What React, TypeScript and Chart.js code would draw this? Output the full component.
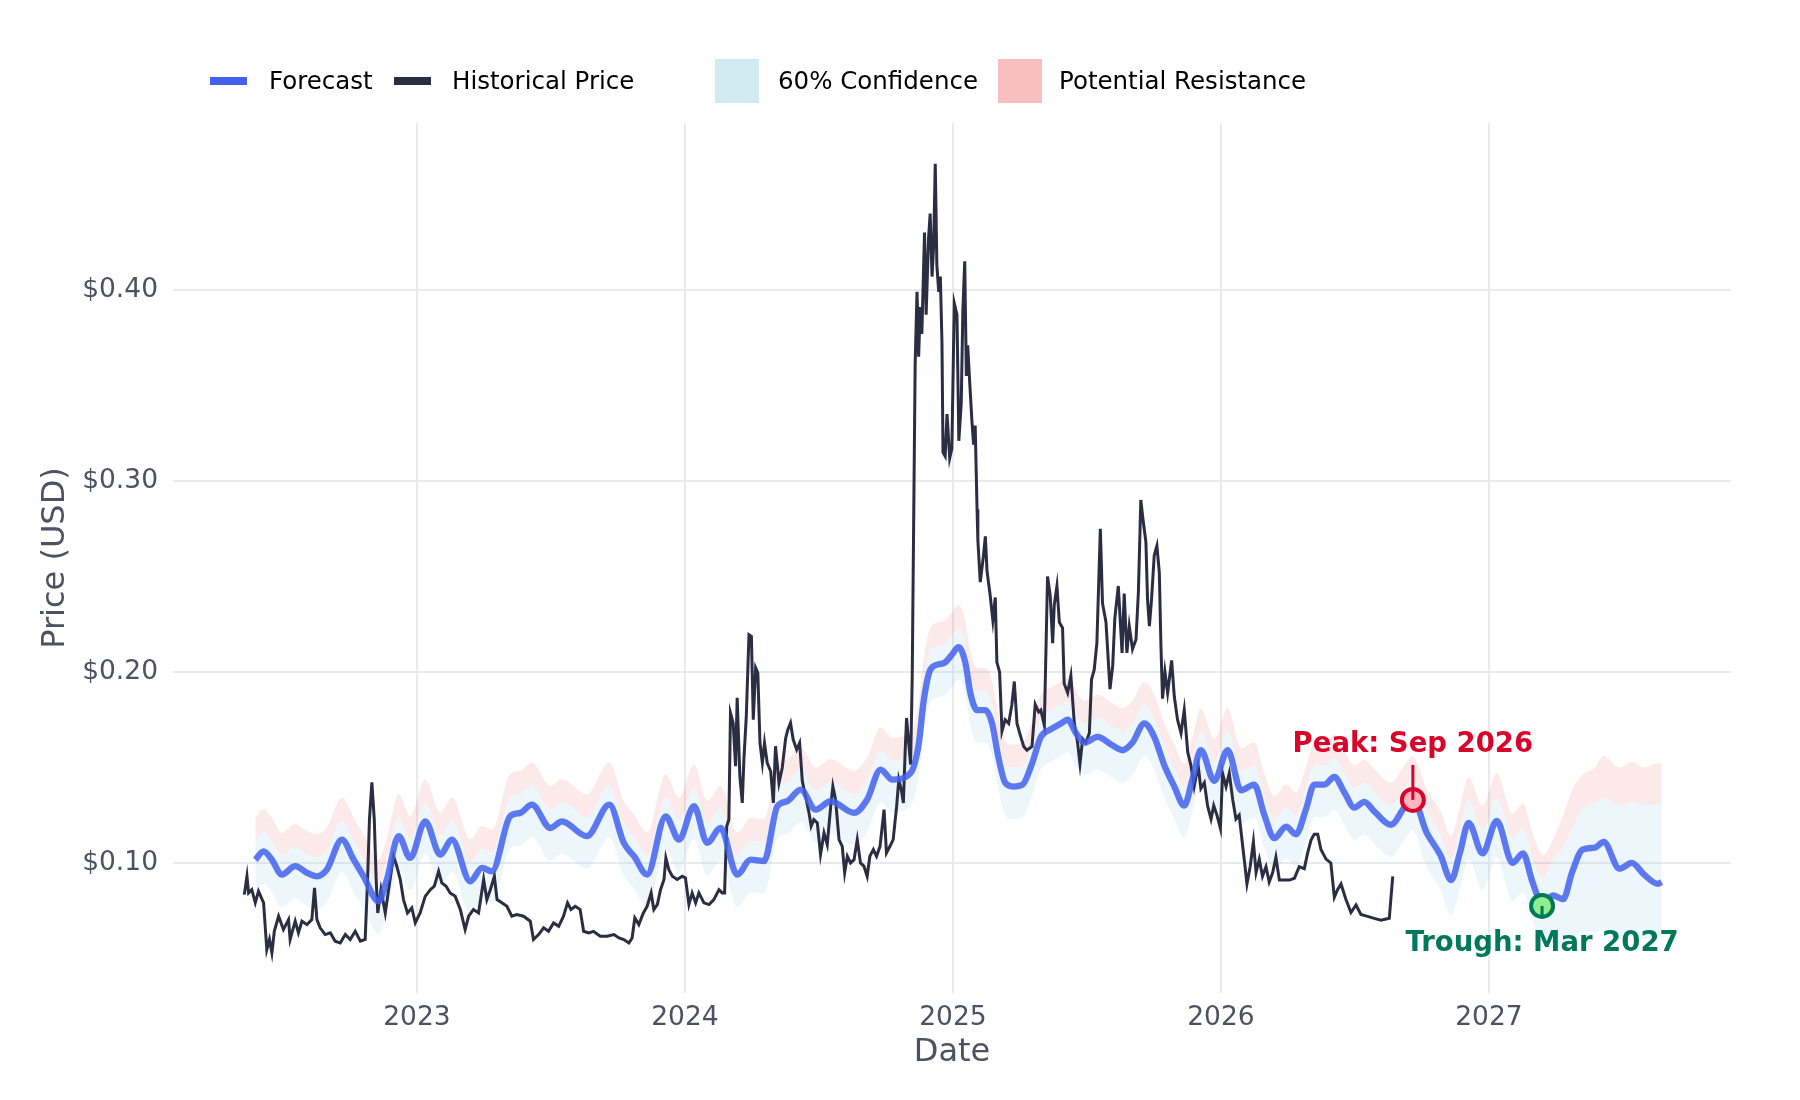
import { useEffect, useRef } from 'react';
import { Chart, registerables } from 'chart.js';

Chart.register(...registerables);

// axis ticks
const yearTicks = [2023, 2024, 2025, 2026, 2027];
const priceTicks = [0.1, 0.2, 0.3, 0.4];

// historical price, decimal year -> USD
const historyT = [
  2022.356, 2022.366, 2022.372, 2022.384, 2022.397, 2022.409, 2022.428, 2022.44, 2022.45, 2022.459,
  2022.468, 2022.484, 2022.502, 2022.521, 2022.527, 2022.546, 2022.558, 2022.571, 2022.59, 2022.608,
  2022.618, 2022.627, 2022.639, 2022.658, 2022.677, 2022.695, 2022.714, 2022.733, 2022.751, 2022.77,
  2022.789, 2022.807, 2022.816, 2022.823, 2022.832, 2022.841, 2022.848, 2022.854, 2022.866, 2022.882,
  2022.898, 2022.913, 2022.925, 2022.938, 2022.95, 2022.965, 2022.981, 2022.994, 2023.012, 2023.031,
  2023.05, 2023.065, 2023.081, 2023.093, 2023.109, 2023.124, 2023.143, 2023.162, 2023.18, 2023.193,
  2023.211, 2023.23, 2023.249, 2023.261, 2023.274, 2023.289, 2023.299, 2023.317, 2023.336, 2023.354,
  2023.373, 2023.398, 2023.423, 2023.435, 2023.454, 2023.473, 2023.491, 2023.51, 2023.529, 2023.547,
  2023.562, 2023.575, 2023.591, 2023.609, 2023.622, 2023.641, 2023.659, 2023.684, 2023.71, 2023.735,
  2023.754, 2023.772, 2023.791, 2023.803, 2023.813, 2023.828, 2023.845, 2023.859, 2023.874, 2023.884,
  2023.897, 2023.909, 2023.922, 2023.929, 2023.94, 2023.953, 2023.971, 2023.99, 2024.002, 2024.015,
  2024.027, 2024.04, 2024.052, 2024.071, 2024.09, 2024.108, 2024.127, 2024.139, 2024.148, 2024.156,
  2024.164, 2024.17, 2024.18, 2024.189, 2024.195, 2024.205, 2024.214, 2024.22, 2024.229, 2024.239,
  2024.248, 2024.255, 2024.264, 2024.272, 2024.28, 2024.289, 2024.297, 2024.307, 2024.32, 2024.33,
  2024.338, 2024.351, 2024.363, 2024.376, 2024.384, 2024.394, 2024.404, 2024.417, 2024.428, 2024.438,
  2024.45, 2024.463, 2024.471, 2024.481, 2024.494, 2024.506, 2024.519, 2024.531, 2024.544, 2024.552,
  2024.562, 2024.575, 2024.587, 2024.596, 2024.606, 2024.618, 2024.631, 2024.643, 2024.655, 2024.668,
  2024.68, 2024.69, 2024.703, 2024.715, 2024.728, 2024.743, 2024.752, 2024.765, 2024.777, 2024.79,
  2024.798, 2024.807, 2024.815, 2024.822, 2024.827, 2024.836, 2024.842, 2024.848, 2024.859, 2024.866,
  2024.872, 2024.878, 2024.884, 2024.894, 2024.9, 2024.909, 2024.915, 2024.922, 2024.928, 2024.934,
  2024.94, 2024.947, 2024.953, 2024.959, 2024.963, 2024.971, 2024.978, 2024.988, 2024.996, 2025.005,
  2025.015, 2025.022, 2025.031, 2025.037, 2025.044, 2025.05, 2025.055, 2025.062, 2025.071, 2025.077,
  2025.083, 2025.09, 2025.093, 2025.102, 2025.114, 2025.121, 2025.127, 2025.139, 2025.149, 2025.158,
  2025.164, 2025.174, 2025.183, 2025.195, 2025.208, 2025.22, 2025.229, 2025.239, 2025.251, 2025.264,
  2025.276, 2025.295, 2025.307, 2025.32, 2025.328, 2025.341, 2025.353, 2025.363, 2025.372, 2025.378,
  2025.388, 2025.397, 2025.409, 2025.415, 2025.428, 2025.44, 2025.453, 2025.465, 2025.474, 2025.484,
  2025.496, 2025.509, 2025.517, 2025.527, 2025.537, 2025.55, 2025.558, 2025.571, 2025.586, 2025.596,
  2025.604, 2025.617, 2025.631, 2025.639, 2025.649, 2025.658, 2025.67, 2025.683, 2025.692, 2025.701,
  2025.709, 2025.72, 2025.726, 2025.733, 2025.741, 2025.751, 2025.761, 2025.77, 2025.776, 2025.782,
  2025.791, 2025.801, 2025.816, 2025.826, 2025.838, 2025.851, 2025.863, 2025.876, 2025.888, 2025.9,
  2025.915, 2025.925, 2025.938, 2025.95, 2025.963, 2025.973, 2025.985, 2025.998, 2026.006, 2026.019,
  2026.031, 2026.044, 2026.056, 2026.068, 2026.081, 2026.09, 2026.097, 2026.109, 2026.121, 2026.131,
  2026.143, 2026.155, 2026.168, 2026.18, 2026.193, 2026.205, 2026.218, 2026.236, 2026.255, 2026.274,
  2026.292, 2026.311, 2026.323, 2026.336, 2026.348, 2026.361, 2026.373, 2026.392, 2026.41, 2026.423,
  2026.435, 2026.448, 2026.466, 2026.485, 2026.504, 2026.522, 2026.547, 2026.572, 2026.597, 2026.628,
  2026.641,
];
const historyV = [
  0.0834, 0.093, 0.0843, 0.086, 0.0791, 0.0852, 0.0791, 0.0546, 0.0599, 0.0529,
  0.0642, 0.0721, 0.0651, 0.0703, 0.0599, 0.0695, 0.0634, 0.0695, 0.0677, 0.0703,
  0.0869, 0.0703, 0.066, 0.0625, 0.0634, 0.059, 0.0581, 0.0625, 0.0599, 0.0642,
  0.059, 0.0599, 0.0913, 0.1227, 0.1422, 0.1227, 0.0913, 0.0738, 0.086, 0.0738,
  0.0895, 0.1035, 0.0983, 0.0913, 0.0808, 0.0738, 0.0764, 0.0686, 0.0738, 0.0825,
  0.086, 0.0878, 0.0956, 0.0895, 0.0878, 0.0843, 0.0825, 0.0756, 0.0651, 0.0721,
  0.0756, 0.0738, 0.0913, 0.0808, 0.086, 0.093, 0.0808, 0.0791, 0.0773, 0.0721,
  0.073, 0.0721, 0.0695, 0.0599, 0.0625, 0.066, 0.0642, 0.0686, 0.0668, 0.0721,
  0.0791, 0.0756, 0.0773, 0.0756, 0.0642, 0.0634, 0.0642, 0.0616, 0.0616, 0.0625,
  0.0607, 0.0599, 0.0581, 0.0607, 0.0712, 0.0677, 0.0738, 0.0773, 0.0843, 0.0756,
  0.0782, 0.086, 0.0913, 0.1026, 0.0965, 0.093, 0.0913, 0.093, 0.0921, 0.0782,
  0.0843, 0.0791, 0.0843, 0.0791, 0.0782, 0.0808, 0.086, 0.0843, 0.0843, 0.1192,
  0.1227, 0.1785, 0.1733, 0.1506, 0.1864, 0.1454, 0.1314, 0.1541, 0.1768, 0.2195,
  0.2187, 0.175, 0.2021, 0.1995, 0.1628, 0.1524, 0.1628, 0.1524, 0.148, 0.1314,
  0.1611, 0.1419, 0.1497, 0.1654, 0.1698, 0.1733, 0.1646, 0.1593, 0.1628, 0.1428,
  0.1349, 0.1262, 0.1192, 0.1227, 0.1209, 0.1044, 0.1157, 0.1096, 0.1297, 0.1401,
  0.1332, 0.1122, 0.1087, 0.0948, 0.1035, 0.1, 0.1017, 0.1122, 0.1, 0.0983,
  0.093, 0.1035, 0.107, 0.1035, 0.1087, 0.1279, 0.1052, 0.1087, 0.1122, 0.1297,
  0.1436, 0.1384, 0.1314, 0.1593, 0.1759, 0.1611, 0.1515, 0.196, 0.361, 0.399,
  0.365, 0.391, 0.377, 0.43, 0.387, 0.427, 0.44, 0.407, 0.423, 0.466,
  0.413, 0.399, 0.407, 0.373, 0.315, 0.313, 0.335, 0.312, 0.317, 0.393,
  0.387, 0.321, 0.341, 0.389, 0.415, 0.355, 0.371, 0.353, 0.331, 0.319,
  0.329, 0.285, 0.269, 0.247, 0.261, 0.271, 0.253, 0.24, 0.227, 0.239,
  0.205, 0.2, 0.169, 0.175, 0.173, 0.183, 0.195, 0.173, 0.167, 0.161,
  0.159, 0.161, 0.183, 0.179, 0.18, 0.172, 0.25, 0.24, 0.215, 0.235,
  0.245, 0.226, 0.223, 0.194, 0.189, 0.198, 0.173, 0.163, 0.152, 0.165,
  0.163, 0.168, 0.196, 0.201, 0.215, 0.275, 0.236, 0.226, 0.191, 0.203,
  0.228, 0.245, 0.21, 0.241, 0.21, 0.224, 0.212, 0.217, 0.242, 0.29,
  0.28, 0.268, 0.238, 0.224, 0.238, 0.261, 0.266, 0.252, 0.214, 0.186,
  0.2, 0.189, 0.206, 0.187, 0.175, 0.168, 0.18, 0.158, 0.151, 0.14,
  0.151, 0.139, 0.142, 0.13, 0.123, 0.13, 0.125, 0.118, 0.147, 0.14,
  0.147, 0.133, 0.123, 0.125, 0.109, 0.098, 0.089, 0.098, 0.111, 0.095,
  0.102, 0.093, 0.098, 0.09, 0.095, 0.103, 0.091, 0.091, 0.091, 0.092,
  0.098, 0.097, 0.105, 0.112, 0.115, 0.115, 0.107, 0.102, 0.1, 0.082,
  0.086, 0.089, 0.081, 0.074, 0.078, 0.073, 0.072, 0.071, 0.07, 0.071,
  0.093,
];

// forecast line and its bands
const forecastT = [
  2022.397, 2022.428, 2022.459, 2022.496, 2022.546, 2022.59, 2022.627, 2022.664, 2022.72, 2022.764,
  2022.801, 2022.857, 2022.888, 2022.932, 2022.975, 2023.031, 2023.087, 2023.131, 2023.199, 2023.243,
  2023.28, 2023.348, 2023.386, 2023.429, 2023.498, 2023.541, 2023.634, 2023.718, 2023.772, 2023.81,
  2023.859, 2023.928, 2023.978, 2024.034, 2024.083, 2024.133, 2024.195, 2024.245, 2024.295, 2024.345,
  2024.382, 2024.432, 2024.488, 2024.544, 2024.631, 2024.68, 2024.73, 2024.774, 2024.842, 2024.872,
  2024.891, 2024.915, 2024.947, 2024.971, 2024.996, 2025.021, 2025.046, 2025.065, 2025.09, 2025.121,
  2025.146, 2025.17, 2025.195, 2025.225, 2025.26, 2025.295, 2025.328, 2025.366, 2025.403, 2025.428,
  2025.459, 2025.49, 2025.54, 2025.59, 2025.633, 2025.67, 2025.714, 2025.751, 2025.789, 2025.826,
  2025.863, 2025.894, 2025.925, 2025.975, 2026.025, 2026.075, 2026.124, 2026.162, 2026.199, 2026.243,
  2026.28, 2026.317, 2026.348, 2026.386, 2026.423, 2026.46, 2026.498, 2026.535, 2026.572, 2026.634,
  2026.684, 2026.715, 2026.767, 2026.819, 2026.859, 2026.891, 2026.924, 2026.976, 2027.029, 2027.088,
  2027.127, 2027.16, 2027.186, 2027.202, 2027.238, 2027.277, 2027.31, 2027.349, 2027.395, 2027.428,
  2027.487, 2027.533, 2027.578, 2027.631, 2027.644,
];
const forecastV = [
  0.1017, 0.1061, 0.1017, 0.0939, 0.0983, 0.0948, 0.093, 0.0965, 0.1122, 0.1017,
  0.093, 0.0799, 0.0913, 0.114, 0.1026, 0.1218, 0.1044, 0.1122, 0.0904, 0.0974,
  0.0956, 0.1244, 0.1262, 0.1305, 0.1183, 0.1218, 0.114, 0.1305, 0.1105, 0.1035,
  0.0939, 0.1244, 0.1122, 0.1297, 0.1105, 0.1183, 0.0939, 0.1017, 0.1009, 0.1297,
  0.1323, 0.1384, 0.1279, 0.1323, 0.1262, 0.1332, 0.1489, 0.1436, 0.1471, 0.162,
  0.185, 0.201, 0.204, 0.205, 0.209, 0.213, 0.205, 0.189, 0.18, 0.18,
  0.173, 0.155, 0.142, 0.14, 0.141, 0.152, 0.166, 0.17, 0.173, 0.175,
  0.168, 0.163, 0.166, 0.162, 0.159, 0.163, 0.173, 0.166, 0.151, 0.14,
  0.13, 0.144, 0.159, 0.143, 0.159, 0.138, 0.141, 0.125, 0.113, 0.119,
  0.115, 0.128, 0.141, 0.141, 0.145, 0.137, 0.129, 0.132, 0.127, 0.12,
  0.129, 0.134, 0.116, 0.104, 0.091, 0.105, 0.121, 0.105, 0.122, 0.1,
  0.105, 0.091, 0.081, 0.078, 0.083, 0.081, 0.095, 0.107, 0.108, 0.111,
  0.097, 0.1, 0.094, 0.089, 0.09,
];
const confLow = [
  0.0847, 0.0891, 0.0847, 0.0769, 0.0813, 0.0778, 0.076, 0.0795, 0.0952, 0.0847,
  0.076, 0.0629, 0.0743, 0.097, 0.0856, 0.1048, 0.0874, 0.0952, 0.0734, 0.0804,
  0.0786, 0.1074, 0.1092, 0.1135, 0.1013, 0.1048, 0.097, 0.1135, 0.0935, 0.0865,
  0.0769, 0.1074, 0.0952, 0.1127, 0.0935, 0.1013, 0.0769, 0.0847, 0.0839, 0.1127,
  0.1153, 0.1214, 0.1109, 0.1153, 0.1092, 0.1162, 0.1319, 0.1266, 0.1301, 0.145,
  0.168, 0.184, 0.187, 0.188, 0.192, 0.196, 0.188, 0.172, 0.163, 0.163,
  0.156, 0.138, 0.125, 0.123, 0.124, 0.135, 0.149, 0.153, 0.156, 0.158,
  0.151, 0.146, 0.149, 0.145, 0.142, 0.146, 0.156, 0.149, 0.134, 0.123,
  0.113, 0.127, 0.142, 0.126, 0.142, 0.121, 0.124, 0.108, 0.096, 0.102,
  0.098, 0.111, 0.124, 0.124, 0.128, 0.12, 0.112, 0.115, 0.11, 0.103,
  0.112, 0.117, 0.098, 0.086, 0.073, 0.086, 0.102, 0.086, 0.103, 0.08,
  0.085, 0.071, 0.061, 0.058, 0.058, 0.056, 0.06, 0.064, 0.064, 0.065,
  0.06, 0.062, 0.06, 0.062, 0.062,
];
const confHigh = [
  0.1117, 0.1161, 0.1117, 0.1039, 0.1083, 0.1048, 0.103, 0.1065, 0.1222, 0.1117,
  0.103, 0.0899, 0.1013, 0.124, 0.1126, 0.1318, 0.1144, 0.1222, 0.1004, 0.1074,
  0.1056, 0.1344, 0.1362, 0.1405, 0.1283, 0.1318, 0.124, 0.1405, 0.1205, 0.1135,
  0.1039, 0.1344, 0.1222, 0.1397, 0.1205, 0.1283, 0.1039, 0.1117, 0.1109, 0.1397,
  0.1423, 0.1484, 0.1379, 0.1423, 0.1362, 0.1432, 0.1589, 0.1536, 0.1571, 0.172,
  0.195, 0.211, 0.214, 0.215, 0.219, 0.223, 0.215, 0.199, 0.19, 0.19,
  0.183, 0.165, 0.152, 0.15, 0.151, 0.162, 0.176, 0.18, 0.183, 0.185,
  0.178, 0.173, 0.176, 0.172, 0.169, 0.173, 0.183, 0.176, 0.161, 0.15,
  0.14, 0.154, 0.169, 0.153, 0.169, 0.148, 0.151, 0.135, 0.123, 0.129,
  0.125, 0.138, 0.151, 0.151, 0.155, 0.147, 0.139, 0.142, 0.137, 0.13,
  0.139, 0.144, 0.127, 0.115, 0.102, 0.117, 0.133, 0.117, 0.134, 0.113,
  0.118, 0.104, 0.094, 0.092, 0.102, 0.108, 0.118, 0.128, 0.131, 0.134,
  0.13, 0.132, 0.13, 0.131, 0.131,
];
const resistHigh = [
  0.1237, 0.1281, 0.1237, 0.1159, 0.1203, 0.1168, 0.115, 0.1185, 0.1342, 0.1237,
  0.115, 0.1019, 0.1133, 0.136, 0.1246, 0.1438, 0.1264, 0.1342, 0.1124, 0.1194,
  0.1176, 0.1464, 0.1482, 0.1525, 0.1403, 0.1438, 0.136, 0.1525, 0.1325, 0.1255,
  0.1159, 0.1464, 0.1342, 0.1517, 0.1325, 0.1403, 0.1159, 0.1237, 0.1229, 0.1517,
  0.1543, 0.1604, 0.1499, 0.1543, 0.1482, 0.1552, 0.1709, 0.1656, 0.1691, 0.184,
  0.207, 0.223, 0.226, 0.227, 0.231, 0.235, 0.227, 0.211, 0.202, 0.202,
  0.195, 0.177, 0.164, 0.162, 0.163, 0.174, 0.188, 0.192, 0.195, 0.197,
  0.19, 0.185, 0.188, 0.184, 0.181, 0.185, 0.195, 0.188, 0.173, 0.162,
  0.152, 0.166, 0.181, 0.165, 0.181, 0.16, 0.163, 0.147, 0.135, 0.141,
  0.137, 0.15, 0.163, 0.163, 0.167, 0.159, 0.151, 0.154, 0.149, 0.142,
  0.151, 0.156, 0.139, 0.127, 0.114, 0.129, 0.145, 0.13, 0.147, 0.126,
  0.131, 0.117, 0.107, 0.104, 0.112, 0.125, 0.138, 0.146, 0.15, 0.156,
  0.15, 0.153, 0.15, 0.152, 0.152,
];

const peak = { t: 2026.716, v: 0.133, label: 'Peak: Sep 2026' };
const trough = { t: 2027.198, v: 0.0775, label: 'Trough: Mar 2027' };

const FONT = '"DejaVu Sans", sans-serif';
const TICK_COLOR = '#4c5261';

const pts = (xs: number[], ys: number[]) => xs.map((x, i) => ({ x, y: ys[i] }));

// labels and arrows for the peak / trough markers
const extremaPlugin = {
  id: 'extremaLabels',
  afterDatasetsDraw(chart: any) {
    const { ctx, scales } = chart;
    const xs = scales.x;
    const ys = scales.y;
    ctx.save();
    ctx.font = `bold 27.5px ${FONT}`;
    ctx.textAlign = 'center';
    ctx.textBaseline = 'middle';
    ctx.lineWidth = 3;

    const px = xs.getPixelForValue(peak.t);
    const py = ys.getPixelForValue(peak.v);
    ctx.strokeStyle = '#d90429';
    ctx.fillStyle = '#d90429';
    ctx.beginPath();
    ctx.moveTo(px, py - 35);
    ctx.lineTo(px, py);
    ctx.stroke();
    ctx.fillText(peak.label, px, py - 55);

    const tx = xs.getPixelForValue(trough.t);
    const ty = ys.getPixelForValue(trough.v);
    ctx.strokeStyle = '#00785a';
    ctx.fillStyle = '#00785a';
    ctx.beginPath();
    ctx.moveTo(tx, ty);
    ctx.lineTo(tx, ty + 11);
    ctx.stroke();
    ctx.fillText(trough.label, tx, ty + 38);
    ctx.restore();
  },
};

const legendItems = [
  { label: 'Forecast', kind: 'line', color: '#4361ee', left: 210, textLeft: 269 },
  { label: 'Historical Price', kind: 'line', color: '#2b2d42', left: 394, textLeft: 452 },
  { label: '60% Confidence', kind: 'box', color: 'rgba(173, 216, 230, 0.55)', left: 715, textLeft: 778 },
  { label: 'Potential Resistance', kind: 'box', color: 'rgba(240, 128, 128, 0.5)', left: 998, textLeft: 1059 },
];

export default function App() {
  const canvasRef = useRef<HTMLCanvasElement>(null);

  useEffect(() => {
    document.body.style.margin = '0';
    if (!canvasRef.current) return;

    const chart = new Chart(canvasRef.current, {
      type: 'line',
      data: {
        datasets: [
          {
            label: 'Peak',
            data: [{ x: peak.t, y: peak.v }],
            showLine: false,
            pointRadius: 11,
            pointBackgroundColor: '#ffb6c1',
            pointBorderColor: '#d90429',
            pointBorderWidth: 4,
            order: 0,
          },
          {
            label: 'Trough',
            data: [{ x: trough.t, y: trough.v }],
            showLine: false,
            pointRadius: 11,
            pointBackgroundColor: '#90ee90',
            pointBorderColor: '#00785a',
            pointBorderWidth: 4,
            order: 0,
          },
          {
            label: 'Forecast',
            data: pts(forecastT, forecastV),
            borderColor: 'rgba(67, 97, 238, 0.85)',
            borderWidth: 6.3,
            pointRadius: 0,
            cubicInterpolationMode: 'monotone',
            fill: false,
            order: 1,
          },
          {
            label: 'Historical Price',
            data: pts(historyT, historyV),
            borderColor: '#2b2d42',
            borderWidth: 3,
            pointRadius: 0,
            tension: 0,
            fill: false,
            order: 2,
          },
          {
            label: 'confLow',
            data: pts(forecastT, confLow),
            borderWidth: 0,
            borderColor: 'transparent',
            pointRadius: 0,
            cubicInterpolationMode: 'monotone',
            fill: false,
            order: 5,
          },
          {
            label: '60% Confidence',
            data: pts(forecastT, confHigh),
            borderWidth: 0,
            borderColor: 'transparent',
            backgroundColor: 'rgba(173, 216, 230, 0.22)',
            pointRadius: 0,
            cubicInterpolationMode: 'monotone',
            fill: 4,
            order: 4,
          },
          {
            label: 'Potential Resistance',
            data: pts(forecastT, resistHigh),
            borderWidth: 0,
            borderColor: 'transparent',
            backgroundColor: 'rgba(240, 128, 128, 0.17)',
            pointRadius: 0,
            cubicInterpolationMode: 'monotone',
            fill: 5,
            order: 3,
          },
        ],
      },
      options: {
        responsive: false,
        animation: false,
        devicePixelRatio: 1,
        layout: { padding: { top: 123, right: 69, bottom: 0, left: 0 } },
        plugins: {
          legend: { display: false },
          tooltip: { enabled: false },
        },
        scales: {
          x: {
            type: 'linear',
            min: 2022.09,
            max: 2027.903,
            afterBuildTicks: (scale: any) => {
              scale.ticks = yearTicks.map((value) => ({ value }));
            },
            afterFit: (scale: any) => {
              scale.height = 107;
            },
            ticks: {
              padding: 9,
              color: TICK_COLOR,
              font: { family: FONT, size: 26.5 },
              callback: (v: any) => String(v),
              maxRotation: 0,
            },
            grid: { color: '#e8eaed', lineWidth: 2, drawTicks: false },
            border: { display: false },
            title: {
              display: true,
              text: 'Date',
              color: TICK_COLOR,
              font: { family: FONT, size: 32 },
              padding: { top: 0, bottom: 28 },
            },
          },
          y: {
            type: 'linear',
            min: 0.0319,
            max: 0.4874,
            afterBuildTicks: (scale: any) => {
              scale.ticks = priceTicks.map((value) => ({ value }));
            },
            afterFit: (scale: any) => {
              scale.width = 173;
            },
            ticks: {
              padding: 15,
              color: TICK_COLOR,
              font: { family: FONT, size: 26.5 },
              callback: (v: any) => '$' + Number(v).toFixed(2),
            },
            grid: { color: '#e8eaed', lineWidth: 2, drawTicks: false },
            border: { display: false },
            title: {
              display: true,
              text: 'Price (USD)',
              color: TICK_COLOR,
              font: { family: FONT, size: 32 },
              padding: { top: 36, bottom: 0 },
            },
          },
        },
      },
      plugins: [extremaPlugin],
    } as any);

    return () => {
      chart.destroy();
    };
  }, []);

  return (
    <div style={{ position: 'relative', width: 1800, height: 1100, background: '#fff', fontFamily: FONT }}>
      <canvas ref={canvasRef} width={1800} height={1100} style={{ position: 'absolute', left: 0, top: 0 }} />
      {legendItems.map((item) => (
        <div key={item.label}>
          <div
            style={{
              position: 'absolute',
              left: item.left,
              top: item.kind === 'line' ? 77 : 59,
              width: item.kind === 'line' ? 37 : 44,
              height: item.kind === 'line' ? 8 : 44,
              background: item.color,
            }}
          />
          <div
            style={{
              position: 'absolute',
              left: item.textLeft,
              top: 66,
              height: 30,
              lineHeight: '30px',
              fontSize: 24.5,
              color: '#000',
              whiteSpace: 'nowrap',
            }}
          >
            {item.label}
          </div>
        </div>
      ))}
    </div>
  );
}
